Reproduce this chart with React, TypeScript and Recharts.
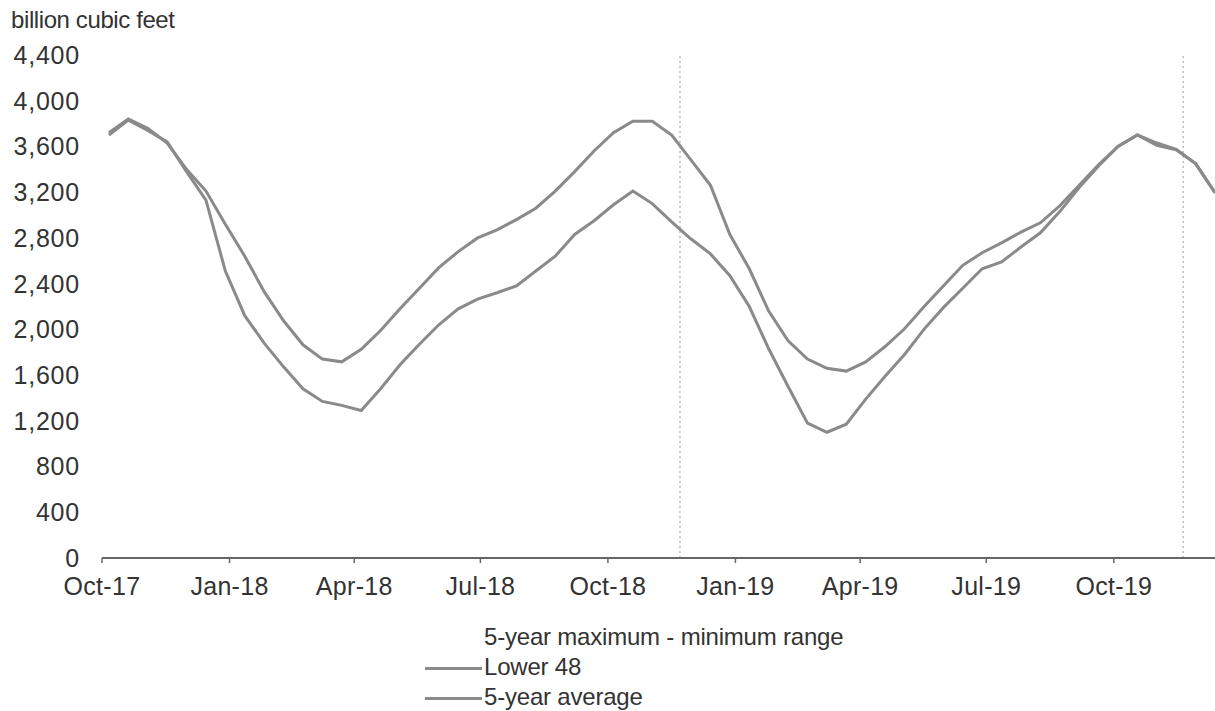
import { LineChart, Line, XAxis, YAxis, ReferenceLine } from "recharts";

// bi-weekly report dates (Fridays)
const dates = [
  "2017-10-06", "2017-10-20", "2017-11-03", "2017-11-17", "2017-12-01", "2017-12-15", "2017-12-29",
  "2018-01-12", "2018-01-26", "2018-02-09", "2018-02-23", "2018-03-09", "2018-03-23", "2018-04-06",
  "2018-04-20", "2018-05-04", "2018-05-18", "2018-06-01", "2018-06-15", "2018-06-29", "2018-07-13",
  "2018-07-27", "2018-08-10", "2018-08-24", "2018-09-07", "2018-09-21", "2018-10-05", "2018-10-19",
  "2018-11-02", "2018-11-16", "2018-11-30", "2018-12-14", "2018-12-28", "2019-01-11", "2019-01-25",
  "2019-02-08", "2019-02-22", "2019-03-08", "2019-03-22", "2019-04-05", "2019-04-19", "2019-05-03",
  "2019-05-17", "2019-05-31", "2019-06-14", "2019-06-28", "2019-07-12", "2019-07-26", "2019-08-09",
  "2019-08-23", "2019-09-06", "2019-09-20", "2019-10-04", "2019-10-18", "2019-11-01", "2019-11-15",
  "2019-11-29", "2019-12-13",
];

const lower48 = [
  3700, 3830, 3740, 3640, 3380, 3130, 2510,
  2120, 1880, 1672, 1480, 1370, 1335, 1290,
  1480, 1690, 1870, 2040, 2180, 2265, 2320,
  2380, 2510, 2640, 2830, 2950, 3090, 3210,
  3100, 2940, 2790, 2660, 2470, 2200, 1830,
  1500, 1180, 1100, 1170, 1390, 1590, 1780,
  2000, 2190, 2360, 2530, 2590, 2720, 2845,
  3030, 3240, 3430, 3600, 3700, 3610, 3570,
  3450, 3195,
];

const fiveYearAvg = [
  3720, 3840, 3760, 3630, 3400, 3210, 2920,
  2640, 2330, 2075, 1865, 1740, 1716, 1825,
  1990, 2180, 2360, 2540, 2680, 2800, 2871,
  2960, 3060, 3210, 3380, 3560, 3720, 3820,
  3820, 3700, 3480, 3260, 2830, 2530, 2160,
  1900, 1740, 1660, 1635, 1715, 1850, 2005,
  2197, 2380, 2560, 2670, 2757, 2850, 2932,
  3080, 3260, 3440, 3600, 3700, 3630, 3575,
  3450, 3195,
];

const xTickDates = [
  "2017-10-01", "2018-01-01", "2018-04-01", "2018-07-01", "2018-10-01",
  "2019-01-01", "2019-04-01", "2019-07-01", "2019-10-01",
];
const xTickLabels = [
  "Oct-17", "Jan-18", "Apr-18", "Jul-18", "Oct-18", "Jan-19", "Apr-19", "Jul-19", "Oct-19",
];
const yTicks = [0, 400, 800, 1200, 1600, 2000, 2400, 2800, 3200, 3600, 4000, 4400];
const markerDates = ["2018-11-22", "2019-11-20"];

const ts = (d: string) => Date.parse(d + "T00:00:00Z");

const data = dates.map((d, i) => ({
  t: ts(d),
  lower48: lower48[i],
  avg: fiveYearAvg[i],
}));

const xTicks = xTickDates.map(ts);
const FONT = "'Liberation Sans', Arial, sans-serif";
const LINE = "#8a8a8a";

export default function App() {
  return (
    <div
      style={{
        position: "absolute",
        left: 0,
        top: 0,
        width: 1215,
        height: 711,
        background: "#fff",
        fontFamily: FONT,
        color: "#333",
        overflow: "hidden",
      }}
    >
      <div style={{ position: "absolute", left: 11, top: 6, fontSize: 24, letterSpacing: -0.4, lineHeight: "28px" }}>
        billion cubic feet
      </div>
      <LineChart width={1215} height={711} data={data} margin={{ top: 55, right: 0, left: 0, bottom: 0 }}>
        <XAxis
          dataKey="t"
          type="number"
          domain={[ts("2017-10-01"), ts("2019-12-13")]}
          ticks={xTicks}
          tickFormatter={(v: number) => xTickLabels[xTicks.indexOf(v)]}
          height={153}
          allowDataOverflow
          axisLine={{ stroke: "#666", strokeWidth: 2 }}
          tickLine={{ stroke: "#666", strokeWidth: 1.5 }}
          tickSize={5}
          tickMargin={14}
          tick={{ fill: "#333", fontSize: 25, fontFamily: FONT, letterSpacing: 0.3 }}
        />
        <YAxis
          domain={[0, 4400]}
          ticks={yTicks}
          width={102}
          axisLine={false}
          tickLine={false}
          tickSize={0}
          tickMargin={22}
          tickFormatter={(v: number) => v.toLocaleString("en-US")}
          tick={{ fill: "#333", fontSize: 25, fontFamily: FONT, letterSpacing: 0.8 }}
        />
        {markerDates.map((d) => (
          <ReferenceLine key={d} x={ts(d)} stroke="#bbb" strokeWidth={1.5} strokeDasharray="2 3" />
        ))}
        <Line type="linear" dataKey="avg" stroke={LINE} strokeWidth={3} dot={false} isAnimationActive={false} />
        <Line type="linear" dataKey="lower48" stroke={LINE} strokeWidth={3} dot={false} isAnimationActive={false} />
      </LineChart>
      <div style={{ position: "absolute", left: 484, top: 622, fontSize: 24, letterSpacing: -0.2, lineHeight: "30px" }}>
        <div>5-year maximum - minimum range</div>
        {["Lower 48", "5-year average"].map((name) => (
          <div key={name} style={{ position: "relative" }}>
            <span
              style={{
                position: "absolute",
                left: -59,
                top: 15,
                width: 57,
                height: 3,
                background: LINE,
              }}
            />
            {name}
          </div>
        ))}
      </div>
    </div>
  );
}
